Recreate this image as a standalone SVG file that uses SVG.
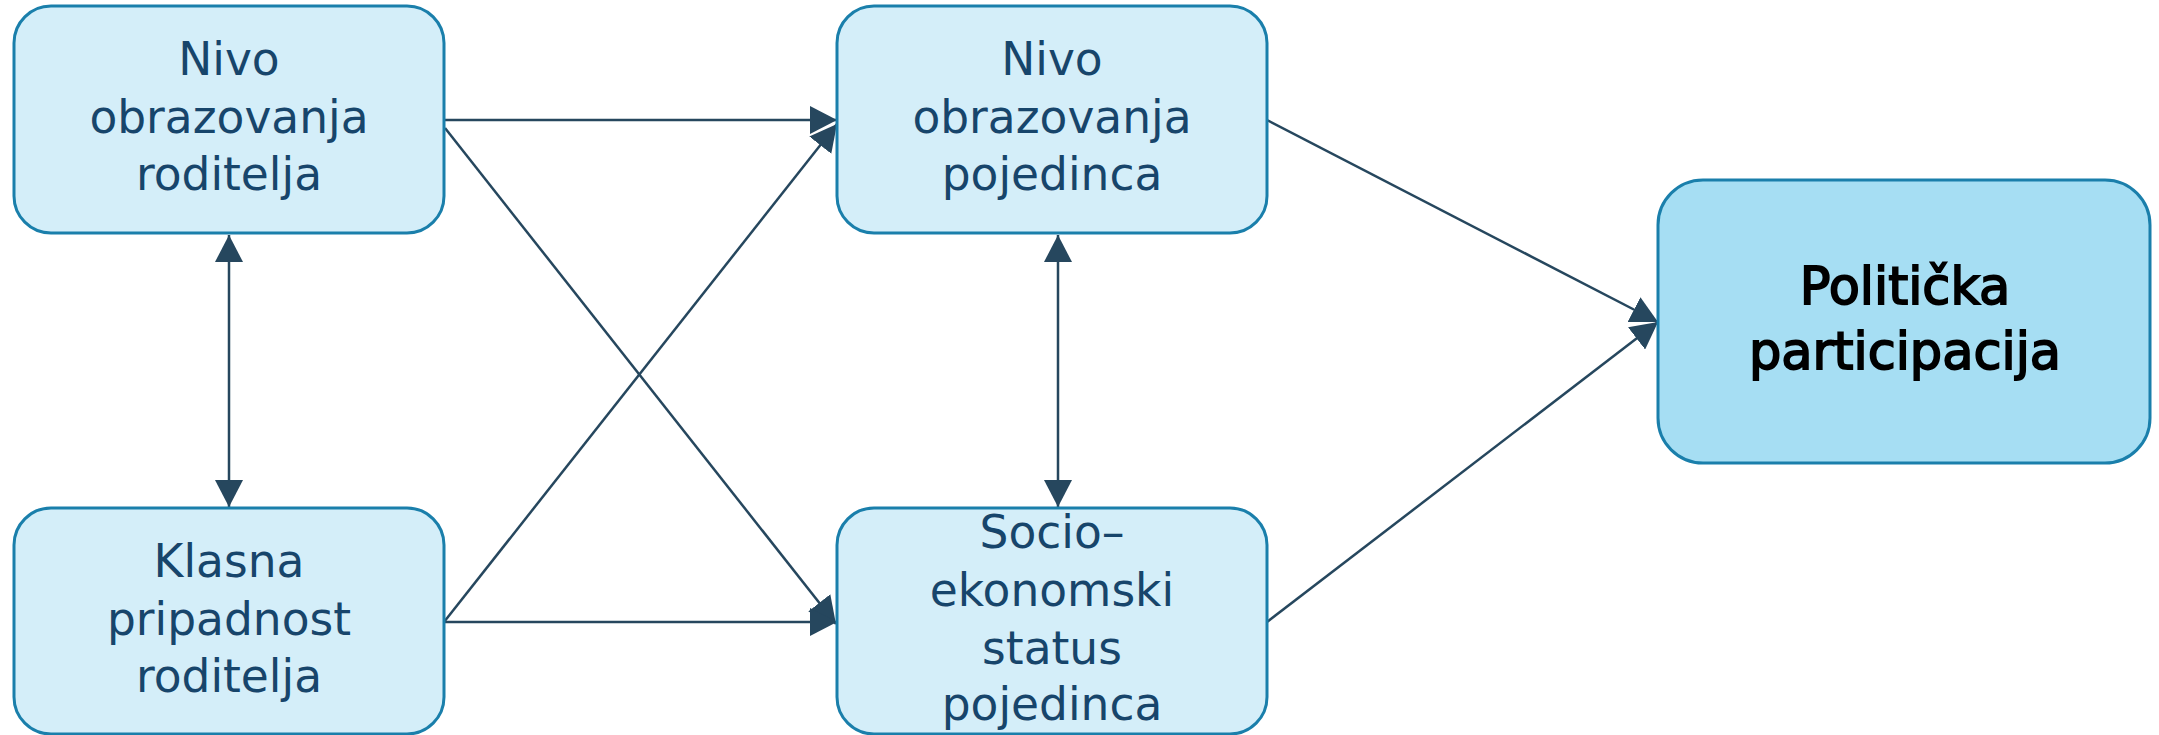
<svg xmlns="http://www.w3.org/2000/svg" width="2159" height="735" viewBox="0 0 2159 735">
<style>
.box{fill:#d4eef9;stroke:#1a7fab;stroke-width:3}
.big{fill:#a6def3;stroke:#1a7fab;stroke-width:3}
.t{font-family:"DejaVu Sans",sans-serif;font-size:45.5px;fill:#17456b;text-anchor:middle}
.bt{font-family:"DejaVu Sans",sans-serif;font-size:51px;fill:#000;stroke:#000;stroke-width:1.8;text-anchor:middle}
.c{stroke:#26475e;stroke-width:2.5;fill:none}
</style>
<defs>
<marker id="ah" markerUnits="userSpaceOnUse" markerWidth="28" markerHeight="28" refX="27" refY="14" orient="auto-start-reverse">
<path d="M0,0 L27,14 L0,28 Z" fill="#26475e"/>
</marker>
</defs>
<g id="connectors">
<line class="c" x1="444" y1="120" x2="837" y2="120" marker-end="url(#ah)"/>
<line class="c" x1="445" y1="128" x2="836" y2="624" marker-end="url(#ah)"/>
<line class="c" x1="444" y1="622" x2="837" y2="124" marker-end="url(#ah)"/>
<line class="c" x1="444" y1="622" x2="837" y2="622" marker-end="url(#ah)"/>
<line class="c" x1="229" y1="235" x2="229" y2="507" marker-start="url(#ah)" marker-end="url(#ah)"/>
<line class="c" x1="1058" y1="235" x2="1058" y2="507" marker-start="url(#ah)" marker-end="url(#ah)"/>
<line class="c" x1="1267" y1="120" x2="1658" y2="322" marker-end="url(#ah)"/>
<line class="c" x1="1267" y1="622" x2="1658" y2="322" marker-end="url(#ah)"/>
</g>
<g id="n1">
<rect class="box" x="14" y="6" width="430" height="227" rx="37"/>
<text class="t" x="229" y="75">Nivo</text>
<text class="t" x="229" y="133">obrazovanja</text>
<text class="t" x="229" y="190">roditelja</text>
</g>
<g id="n2">
<rect class="box" x="837" y="6" width="430" height="227" rx="37"/>
<text class="t" x="1052" y="75">Nivo</text>
<text class="t" x="1052" y="133">obrazovanja</text>
<text class="t" x="1052" y="190">pojedinca</text>
</g>
<g id="n3">
<rect class="box" x="14" y="508" width="430" height="226" rx="37"/>
<text class="t" x="229" y="577">Klasna</text>
<text class="t" x="229" y="635">pripadnost</text>
<text class="t" x="229" y="692">roditelja</text>
</g>
<g id="n4">
<rect class="box" x="837" y="508" width="430" height="226" rx="37"/>
<text class="t" x="1052" y="548">Socio–</text>
<text class="t" x="1052" y="606">ekonomski</text>
<text class="t" x="1052" y="664">status</text>
<text class="t" x="1052" y="720">pojedinca</text>
</g>
<g id="n5">
<rect class="big" x="1658" y="180" width="492" height="283" rx="45"/>
<text class="bt" x="1905" y="304">Politička</text>
<text class="bt" x="1905" y="369">participacija</text>
</g>
</svg>
